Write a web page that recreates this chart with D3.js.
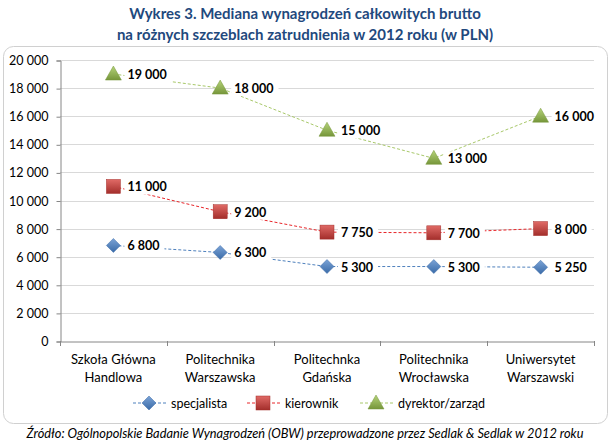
<!DOCTYPE html>
<html><head><meta charset="utf-8">
<script src="https://cdn.jsdelivr.net/npm/d3@7"></script>
<style>body{margin:0;background:#fff;} svg{display:block;font-family:Lato,"Open Sans",sans-serif;}</style>
</head><body>
<svg id="c" width="611" height="444"></svg>
<script>
const categories = [["Szkoła Główna","Handlowa"],["Politechnika","Warszawska"],["Politechnka","Gdańska"],["Politechnika","Wrocławska"],["Uniwersytet","Warszawski"]];
const specjalista = [6800, 6300, 5300, 5300, 5250];
const kierownik = [11000, 9200, 7750, 7700, 8000];
const dyrektor = [19000, 18000, 15000, 13000, 16000];
const yTicks = [0,2000,4000,6000,8000,10000,12000,14000,16000,18000,20000];
const seriesNames = ["specjalista","kierownik","dyrektor/zarząd"];
const titleLines = ["Wykres 3. Mediana wynagrodzeń całkowitych brutto","na różnych szczeblach zatrudnienia w 2012 roku (w PLN)"];
const sourceText = "Źródło: Ogólnopolskie Badanie Wynagrodzeń (OBW) przeprowadzone przez Sedlak & Sedlak w 2012 roku";

const svg = d3.select("#c");
const fmt = v => d3.format(",")(v).replace(/,/g," ");
const defs = svg.append("defs");
function grad(id, c1, c2){
  const g = defs.append("linearGradient").attr("id",id).attr("x1",0).attr("y1",0).attr("x2",0).attr("y2",1);
  g.append("stop").attr("offset","0%").attr("stop-color",c1);
  g.append("stop").attr("offset","100%").attr("stop-color",c2);
}
grad("gB","#7BA3D6","#3A6BA8");
grad("gR","#E06A66","#A32E2B");
grad("gG","#B5D37A","#76963A");

// title
svg.selectAll("text.title").data(titleLines).join("text")
  .attr("x",305).attr("y",(d,i)=>19+i*21).attr("text-anchor","middle")
  .attr("font-size",15).attr("font-weight","bold").attr("fill","#1F497D").text(d=>d);

// frame
svg.append("rect").attr("x",3.5).attr("y",46.5).attr("width",604).attr("height",377).attr("rx",10)
  .attr("fill","#fff").attr("stroke","#D0D0D0");

const m = {l:60, r:594, t:60, b:341};
const x = d3.scaleBand().domain(d3.range(categories.length)).range([m.l,m.r]);
const y = d3.scaleLinear().domain([0,20000]).range([m.b,m.t]);

// gridlines
svg.append("g").selectAll("line").data(yTicks.filter(d=>d>0)).join("line")
  .attr("x1",m.l).attr("x2",m.r).attr("y1",d=>Math.round(y(d))+0.5).attr("y2",d=>Math.round(y(d))+0.5)
  .attr("stroke","#D9D9D9");

// y axis
const ya = svg.append("g").attr("transform",`translate(${m.l+0.5},0.5)`)
  .call(d3.axisLeft(y).tickValues(yTicks).tickFormat(fmt).tickSize(4).tickPadding(8));
ya.select(".domain").attr("stroke","#868686");
ya.selectAll(".tick line").attr("stroke","#868686");
ya.selectAll(".tick text").attr("font-size",12.5).attr("fill","#000").attr("font-family","Lato");

// x axis
const xa = svg.append("g").attr("transform",`translate(0.5,${m.b+0.5})`)
  .call(d3.axisBottom(x).tickSize(0).tickFormat(""));
xa.select(".domain").attr("stroke","#868686");
const xt = d3.range(categories.length+1).map(i=>m.l+i*x.bandwidth());
svg.append("g").selectAll("line").data(xt).join("line")
  .attr("x1",d=>Math.round(d)+0.5).attr("x2",d=>Math.round(d)+0.5).attr("y1",m.b).attr("y2",m.b+5).attr("stroke","#868686");
const cl = svg.append("g").selectAll("text").data(categories).join("text")
  .attr("text-anchor","middle").attr("font-size",13).attr("fill","#000");
cl.each(function(d,i){
  const t=d3.select(this);
  d.forEach((s,j)=>t.append("tspan").attr("x",x(i)+x.bandwidth()/2).attr("y",m.b+23+j*17.5).text(s));
});

const series = [
  {name:seriesNames[0], data:specjalista, line:"#4F81BD", fill:"url(#gB)", shape:"diamond", dash:"3,2"},
  {name:seriesNames[1], data:kierownik, line:"#E8262A", fill:"url(#gR)", shape:"square", dash:"3,2"},
  {name:seriesNames[2], data:dyrektor, line:"#A8C86A", fill:"url(#gG)", shape:"triangle", dash:"3,2"}
];
function marker(g, shape, fill, cx, cy){
  if(shape==="diamond") g.append("path").attr("d",`M${cx},${cy-7}L${cx+7},${cy}L${cx},${cy+7}L${cx-7},${cy}Z`).attr("fill",fill).attr("stroke","#3A6BA8").attr("stroke-width",0.5);
  if(shape==="square") g.append("rect").attr("x",cx-7).attr("y",cy-7).attr("width",14).attr("height",14).attr("fill",fill).attr("stroke","#A32E2B").attr("stroke-width",0.5);
  if(shape==="triangle") g.append("path").attr("d",`M${cx},${cy-8}L${cx+8},${cy+6}L${cx-8},${cy+6}Z`).attr("fill",fill).attr("stroke","#76963A").attr("stroke-width",0.5);
}
const cx = i => x(i)+x.bandwidth()/2;
const line = d3.line().x((d,i)=>cx(i)).y(d=>y(d));
series.forEach(s=>{
  svg.append("path").datum(s.data).attr("d",line).attr("fill","none")
    .attr("stroke",s.line).attr("stroke-width",1).attr("stroke-dasharray",s.dash);
});
// labels with white background
series.forEach(s=>{
  s.data.forEach((v,i)=>{
    const g = svg.append("g");
    const t = g.append("text").attr("x",cx(i)+14).attr("y",y(v)+5).attr("font-size",12.5).attr("font-weight","bold").attr("fill","#000").text(fmt(v));
    const bb = t.node().getBBox();
    g.insert("rect","text").attr("x",bb.x-3).attr("y",bb.y).attr("width",bb.width+8).attr("height",bb.height).attr("fill","#fff");
  });
});
series.forEach(s=>{
  const g = svg.append("g");
  s.data.forEach((v,i)=>marker(g,s.shape,s.fill,cx(i),y(v)));
});

// legend
const lx = [133, 247, 360];
series.forEach((s,k)=>{
  const g = svg.append("g");
  const yy = 403;
  g.append("line").attr("x1",lx[k]).attr("x2",lx[k]+34).attr("y1",yy).attr("y2",yy).attr("stroke",s.line).attr("stroke-dasharray","3,2");
  marker(g,s.shape,s.fill,lx[k]+16,yy);
  g.append("text").attr("x",lx[k]+38).attr("y",yy+4.5).attr("font-size",12.5).attr("fill","#000").text(s.name);
});

svg.append("text").attr("x",305).attr("y",438).attr("text-anchor","middle").attr("font-size",12.8)
  .attr("font-style","italic").attr("fill","#000").text(sourceText);
</script>
</body></html>
